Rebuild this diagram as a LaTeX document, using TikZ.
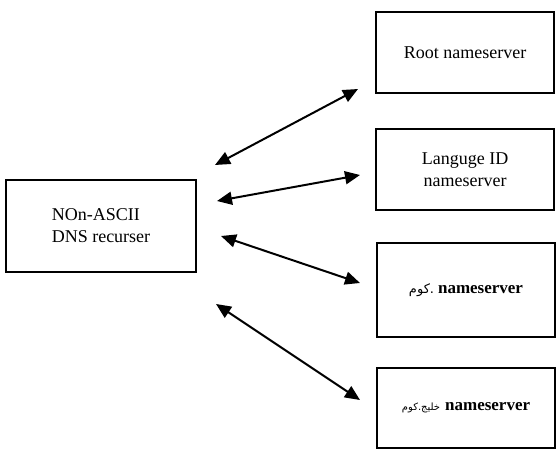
\documentclass[tikz,border=0pt]{standalone}
\usepackage{fontspec}
\setmainfont{Liberation Serif}
\newfontfamily\arabicfont[Script=Arabic]{DejaVu Sans}
\TeXXeTstate=1
\usetikzlibrary{arrows.meta}
\begin{document}
\begin{tikzpicture}[x=1pt,y=-1pt,
  box/.style={draw=black,line width=2pt,rectangle,inner sep=0pt,
    font=\fontsize{18}{22}\selectfont},
  conn/.style={line width=2pt,{Triangle[length=15pt,width=13pt]}-{Triangle[length=15pt,width=13pt]}}]
\useasboundingbox (0,0) rectangle (556,449);
\node[box,minimum width=190pt,minimum height=92pt,align=left] (rec) at (101,226) {NOn-ASCII\\DNS recurser};
\node[box,minimum width=178pt,minimum height=81pt] (root) at (465,52.5) {Root nameserver};
\node[box,minimum width=178pt,minimum height=81pt,align=center] (lang) at (465,169.5) {Languge ID\\nameserver};
\node[box,minimum width=178pt,minimum height=94pt] (com) at (466,290) {{\arabicfont\fontsize{13}{14}\selectfont\beginR .كوم\endR}\hspace{4pt}\textbf{\fontsize{17}{20}\selectfont nameserver}};
\node[box,minimum width=178pt,minimum height=80pt] (gulf) at (466,408) {{\arabicfont\fontsize{10}{11}\selectfont\beginR خليج.كوم\endR}\hspace{5pt}\textbf{\fontsize{17}{20}\selectfont nameserver}};
\coordinate (a1s) at (215,165); \coordinate (a1e) at (358,89);
\coordinate (a2s) at (217,201); \coordinate (a2e) at (360,175);
\coordinate (a3s) at (221,236); \coordinate (a3e) at (360,283);
\coordinate (a4s) at (216,304); \coordinate (a4e) at (360,400);
\draw[conn] (a1s) -- (a1e);
\draw[conn] (a2s) -- (a2e);
\draw[conn] (a3s) -- (a3e);
\draw[conn] (a4s) -- (a4e);
\end{tikzpicture}
\end{document}
